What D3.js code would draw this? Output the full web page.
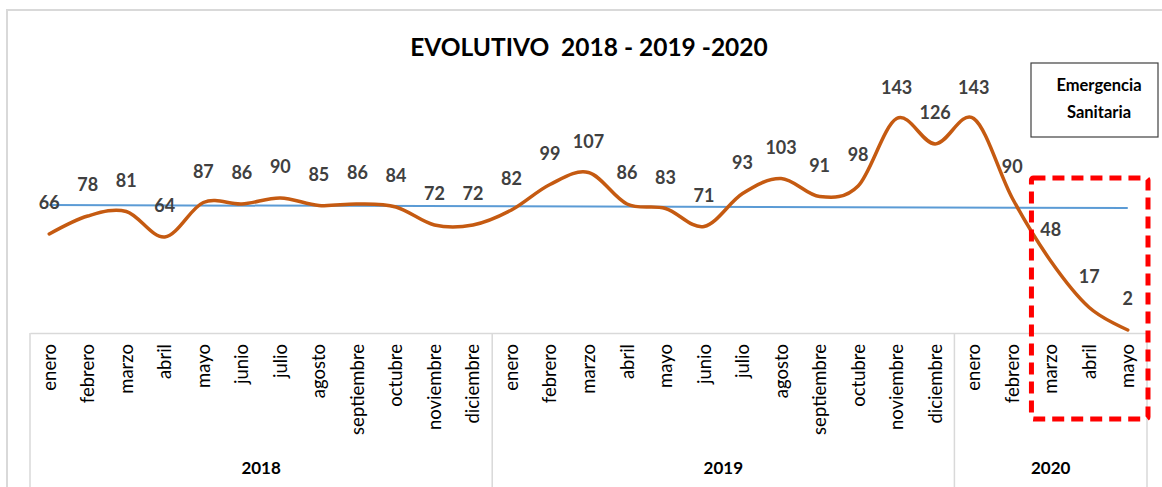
<!DOCTYPE html>
<html>
<head>
<meta charset="utf-8">
<script src="https://cdn.jsdelivr.net/npm/d3@7"></script>
<style>
  body { margin: 0; background: #fff; }
  text { font-family: Lato, "Open Sans", sans-serif; }
</style>
</head>
<body>
<div id="chart"></div>
<script>
// data
const years = ["2018", "2019", "2020"];
const months = ["enero", "febrero", "marzo", "abril", "mayo", "junio", "julio",
  "agosto", "septiembre", "octubre", "noviembre", "diciembre"];
const values2018 = [66, 78, 81, 64, 87, 86, 90, 85, 86, 84, 72, 72];
const values2019 = [82, 99, 107, 86, 83, 71, 93, 103, 91, 98, 143, 126];
const values2020 = [143, 90, 48, 17, 2];
const trendValues = [85.3, 83.3];   // start / end of the blue trend line
const emergencyMonths = ["2020-marzo", "2020-mayo"];

const allValues = [values2018, values2019, values2020];
const data = [];
allValues.forEach((vals, yi) => {
    vals.forEach((v, mi) => {
        data.push({ key: years[yi] + "-" + months[mi], year: years[yi], month: months[mi], value: v });
    });
});

const width = 1162, height = 487;
const plot = { left: 30, right: 1147, top: 33, bottom: 333 };

const svg = d3.select("#chart").append("svg")
    .attr("width", width)
    .attr("height", height);

// chart frame
svg.append("rect")
    .attr("x", 7).attr("y", 10)
    .attr("width", 1200).attr("height", 520)
    .attr("fill", "none")
    .attr("stroke", "#d9d9d9")
    .attr("stroke-width", 2);

const x = d3.scaleBand()
    .domain(data.map(d => d.key))
    .range([plot.left, plot.right])
    .padding(0);

const y = d3.scaleLinear()
    .domain([0, 200])
    .range([plot.bottom, plot.top]);

const cx = k => x(k) + x.bandwidth() / 2;

// title
svg.append("text")
    .attr("x", 589)
    .attr("y", 56)
    .attr("text-anchor", "middle")
    .style("font-size", "24.5px")
    .style("font-weight", "bold")
    .style("white-space", "pre")
    .attr("fill", "#000")
    .text("EVOLUTIVO  2018 - 2019 -2020");

// category axis (month labels)
const xAxis = svg.append("g")
    .attr("transform", `translate(0,${plot.bottom})`)
    .call(d3.axisBottom(x).tickSize(0).tickFormat(k => k.split("-")[1]));
xAxis.select(".domain").attr("stroke", "#d9d9d9").attr("stroke-width", 1.5);
xAxis.selectAll("text")
    .attr("transform", "rotate(-90)")
    .attr("x", -11)
    .attr("y", 0)
    .attr("dy", "0.35em")
    .attr("text-anchor", "end")
    .style("font-size", "18.5px")
    .style("font-family", "Lato, sans-serif")
    .attr("fill", "#000");

// year group separators and labels
const yearEdges = years.map(yr => x(yr + "-enero")).concat([plot.right]);
svg.selectAll(".year-sep")
    .data(yearEdges)
    .enter()
    .append("line")
    .attr("class", "year-sep")
    .attr("x1", d => d).attr("x2", d => d)
    .attr("y1", plot.bottom).attr("y2", height)
    .attr("stroke", "#d9d9d9")
    .attr("stroke-width", 1.5);

svg.selectAll(".year-label")
    .data(years)
    .enter()
    .append("text")
    .attr("class", "year-label")
    .attr("x", (d, i) => (yearEdges[i] + yearEdges[i + 1]) / 2)
    .attr("y", 474)
    .attr("text-anchor", "middle")
    .style("font-size", "17px")
    .style("font-weight", "bold")
    .attr("fill", "#000")
    .text(d => d);

// trend line
const first = data[0].key, last = data[data.length - 1].key;
svg.append("line")
    .attr("x1", cx(first)).attr("y1", y(trendValues[0]))
    .attr("x2", cx(last)).attr("y2", y(trendValues[1]))
    .attr("stroke", "#5b9bd5")
    .attr("stroke-width", 2);

// main series
const line = d3.line()
    .x(d => cx(d.key))
    .y(d => y(d.value))
    .curve(d3.curveCardinal.tension(0));

svg.append("path")
    .datum(data)
    .attr("d", line)
    .attr("fill", "none")
    .attr("stroke", "#c55a11")
    .attr("stroke-width", 3.5)
    .attr("stroke-linecap", "round");

// data labels
svg.selectAll(".value-label")
    .data(data)
    .enter()
    .append("text")
    .attr("class", "value-label")
    .attr("x", d => cx(d.key))
    .attr("y", d => y(d.value) - 25)
    .attr("text-anchor", "middle")
    .style("font-size", "18px")
    .style("font-weight", "bold")
    .attr("fill", "#404040")
    .text(d => d.value);

// emergency box
svg.append("rect")
    .attr("x", 1031).attr("y", 63)
    .attr("width", 127).attr("height", 74)
    .attr("fill", "#fff")
    .attr("stroke", "#404040")
    .attr("stroke-width", 1.2);
svg.selectAll(".emerg-text")
    .data(["Emergencia", "Sanitaria"])
    .enter()
    .append("text")
    .attr("class", "emerg-text")
    .attr("x", 1099)
    .attr("y", (d, i) => 91 + i * 27)
    .attr("text-anchor", "middle")
    .style("font-size", "16.5px")
    .style("font-weight", "bold")
    .attr("fill", "#000")
    .text(d => d);

// red dashed highlight round the emergency months
const hx0 = x(emergencyMonths[0]);
const hx1 = x(emergencyMonths[1]) + x.bandwidth() + 1;
svg.append("rect")
    .attr("x", hx0).attr("y", 178)
    .attr("width", hx1 - hx0).attr("height", 241)
    .attr("rx", 2)
    .attr("fill", "none")
    .attr("stroke", "#ff0000")
    .attr("stroke-width", 5)
    .attr("stroke-dasharray", "12,7");
</script>
</body>
</html>
